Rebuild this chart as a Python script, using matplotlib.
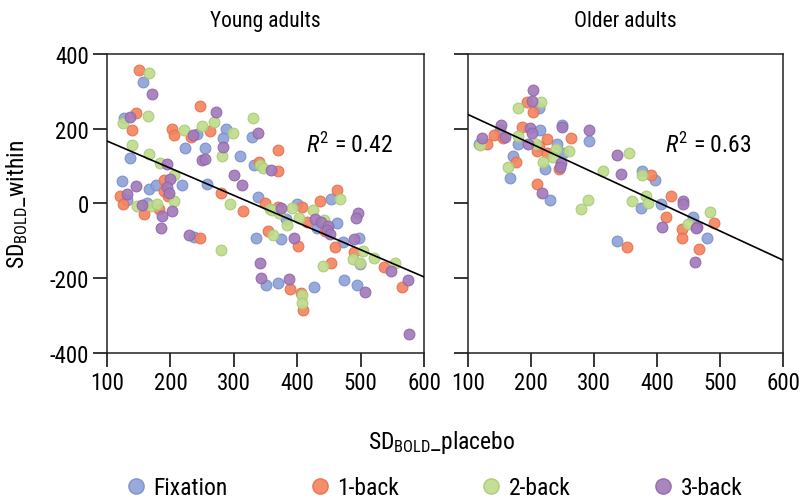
import matplotlib
matplotlib.use("Agg")
import matplotlib.pyplot as plt
from matplotlib.lines import Line2D

plt.rcParams['font.family'] = ['Roboto Condensed', 'Roboto', 'DejaVu Sans']
plt.rcParams['mathtext.fontset'] = 'custom'
plt.rcParams['mathtext.rm'] = 'Roboto Condensed'
plt.rcParams['mathtext.it'] = 'Roboto Condensed:italic'
plt.rcParams['axes.unicode_minus'] = False

conditions = ['Fixation', '1-back', '2-back', '3-back']
colors = ['#8fa3d8', '#f4845f', '#bfdc8c', '#a47bbb']
edges = ['#7b90c9', '#e8704c', '#aacb76', '#9068aa']

# Young adults
young_fix_x = [157, 127, 242, 288, 283, 328, 223, 255, 137, 309, 332, 124, 218, 257, 166, 178, 338, 131, 163, 237,
               335, 350, 399, 453, 382, 431, 463, 374, 473, 498, 499, 474, 495, 370, 426]
young_fix_y = [324, 229, 185, 199, 175, 177, 148, 148, 121, 127, 104, 59, 48, 52, 38, 49, 16, 9, 0, -89,
               -94, -219, -3, 11, -43, -65, -52, -96, -104, -94, -163, -204, -218, -214, -225]
young_1b_x = [150, 145, 246, 140, 203, 205, 233, 263, 340, 190, 190, 197, 280, 121, 126, 349, 314, 158, 182, 354,
              246, 370, 369, 462, 436, 408, 415, 444, 401, 389, 406, 409, 459, 489, 454, 537, 566, 370]
young_1b_y = [356, 243, 262, 196, 200, 184, 178, 193, 112, 62, 34, 21, 27, 19, -1, 2, -21, -29, -16, -74,
              -94, 143, 87, 37, 6, -9, -50, -75, -114, -230, -239, -286, -118, -129, -159, -170, -223, -9]
young_2b_x = [167, 330, 126, 164, 221, 250, 269, 298, 139, 282, 166, 184, 341, 346, 205, 206, 294, 148, 169, 179,
              357, 280, 360, 372, 392, 425, 468, 442, 384, 362, 408, 407, 503, 488, 499, 440, 521, 555, 403]
young_2b_y = [348, 229, 216, 233, 196, 207, 218, 189, 157, 128, 132, 108, 104, 94, 76, 5, -1, -6, -8, -1,
              -16, -126, -18, -25, -12, -17, 11, -45, -59, -86, -246, -267, -128, -150, -159, -168, -147, -160, -38]
young_3b_x = [171, 272, 137, 236, 338, 283, 250, 254, 195, 359, 301, 200, 313, 145, 194, 198, 131, 156, 203, 187,
              185, 229, 342, 343, 375, 428, 438, 449, 447, 452, 395, 387, 490, 548, 574, 507, 496, 493, 576]
young_3b_y = [293, 245, 232, 184, 188, 152, 116, 120, 105, 90, 77, 66, 48, 46, 43, 28, 25, -5, -21, -34,
              -66, -84, -160, -201, -12, -43, -50, -61, -71, -83, -94, -203, -96, -182, -205, -238, -25, -38, -351]

# Older adults
older_fix_x = [212, 215, 250, 292, 151, 180, 117, 242, 251, 172, 223, 167, 230, 377, 397, 375, 406, 457, 480, 336]
older_fix_y = [255, 197, 210, 166, 196, 160, 160, 160, 134, 128, 93, 69, 8, 86, 62, -12, -2, -37, -94, -102]
older_1b_x = [193, 203, 186, 141, 155, 130, 213, 226, 263, 209, 225, 176, 244, 209, 390, 423, 415, 491, 439, 439,
              467, 353]
older_1b_y = [272, 244, 205, 184, 175, 159, 153, 173, 174, 140, 136, 110, 93, 51, 76, 20, -36, -53, -68, -94,
              -123, -116]
older_2b_x = [216, 180, 180, 119, 208, 239, 261, 235, 163, 219, 315, 356, 376, 382, 386, 360, 291, 280, 484, 449]
older_2b_y = [271, 255, 180, 156, 159, 146, 139, 123, 98, 110, 86, 134, 76, 20, 2, 5, 9, -15, -22, -54]
older_3b_x = [203, 201, 152, 199, 202, 159, 123, 249, 292, 195, 248, 246, 336, 343, 217, 441, 441, 463, 462, 408,
              460]
older_3b_y = [303, 274, 209, 201, 189, 178, 174, 204, 196, 158, 107, 98, 129, 78, 27, 5, -3, -62, -67, -64, -156]

# fitted lines (value at x=100 and x=600)
fit_x = [100, 600]
young_fit_y = [167, -197]
older_fit_y = [238, -152]
young_r2 = '0.42'
older_r2 = '0.63'

panels = [
    ('Young adults', [(young_fix_x, young_fix_y), (young_1b_x, young_1b_y), (young_2b_x, young_2b_y),
                      (young_3b_x, young_3b_y)], young_fit_y, young_r2),
    ('Older adults', [(older_fix_x, older_fix_y), (older_1b_x, older_1b_y), (older_2b_x, older_2b_y),
                      (older_3b_x, older_3b_y)], older_fit_y, older_r2),
]

fig = plt.figure(figsize=(8.02, 5.02), dpi=100)
ax_left = fig.add_axes([0.1334, 0.2954, 0.3953, 0.595])
ax_right = fig.add_axes([0.5835, 0.2954, 0.3928, 0.595])

for ax, (title, series, fit_y, r2) in zip([ax_left, ax_right], panels):
    for (xs, ys), c, ec in zip(series, colors, edges):
        ax.scatter(xs, ys, s=60, color=c, edgecolors=ec, linewidths=0.8, alpha=0.92, zorder=2)
    ax.plot(fit_x, fit_y, color='black', lw=1.2, zorder=3)
    ax.text(482, 158, r'$R^{\mathregular{2}}$ = ' + r2, fontsize=17, ha='center', va='center')
    ax.set_title(title, fontsize=15.5, pad=20)
    ax.set_xlim(100, 600)
    ax.set_ylim(-400, 400)
    ax.set_xticks([100, 200, 300, 400, 500, 600])
    ax.set_yticks([-400, -200, 0, 200, 400])
    ax.tick_params(direction='out', length=10, width=1.1, labelsize=16.5, color='black', pad=3)
    for sp in ax.spines.values():
        sp.set_linewidth(1.1)
        sp.set_color('#222222')

ax_right.set_yticklabels([])
ax_left.set_ylabel(r'SD$_{\mathregular{BOLD}}$_within', fontsize=17)
ax_left.yaxis.set_label_coords(-0.243, 0.5)
fig.text(0.551, 0.118, r'SD$_{\mathregular{BOLD}}$_placebo', fontsize=17, ha='center', va='center')

handles = [Line2D([], [], marker='o', linestyle='none', markersize=11, markerfacecolor=c,
                  markeredgecolor=ec, alpha=0.92) for c, ec in zip(colors, edges)]
fig.legend(handles, conditions, loc='center', bbox_to_anchor=(0.54, 0.027), ncol=4, frameon=False,
           fontsize=17, handletextpad=0.25, columnspacing=3.4, handlelength=1.0)

fig.savefig('out.png', dpi=100)
